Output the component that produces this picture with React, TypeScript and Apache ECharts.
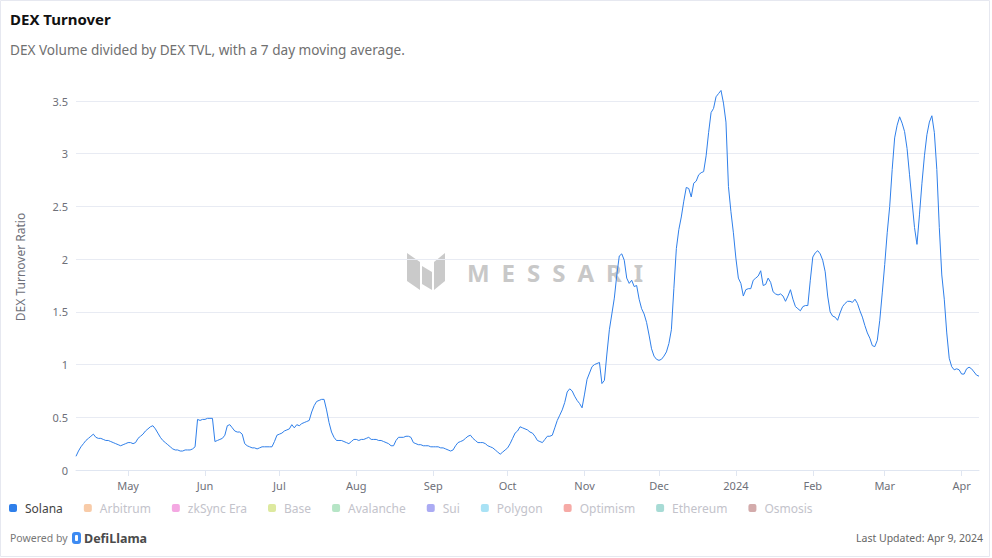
import React, { useEffect, useRef } from "react";
import * as echarts from "echarts";

// ---- Data: Solana DEX turnover ratio (7d MA), daily from 2023-04-10 ----
const startDate = "2023-04-10";
const apr2023 = [0.13, 0.18, 0.22, 0.25, 0.28, 0.30, 0.32, 0.34, 0.31, 0.30, 0.30, 0.29, 0.28, 0.28, 0.27, 0.26, 0.25, 0.24, 0.23, 0.24, 0.25];
const may2023 = [0.26, 0.26, 0.25, 0.26, 0.30, 0.32, 0.34, 0.37, 0.39, 0.41, 0.42, 0.39, 0.35, 0.31, 0.28, 0.26, 0.24, 0.22, 0.20, 0.19, 0.19, 0.18, 0.18, 0.19, 0.19, 0.19, 0.20, 0.22, 0.48, 0.47, 0.48];
const jun2023 = [0.48, 0.49, 0.49, 0.49, 0.27, 0.28, 0.29, 0.30, 0.33, 0.42, 0.43, 0.40, 0.37, 0.36, 0.36, 0.34, 0.25, 0.23, 0.22, 0.21, 0.21, 0.20, 0.21, 0.22, 0.22, 0.22, 0.22, 0.22, 0.27, 0.33];
const jul2023 = [0.34, 0.35, 0.37, 0.38, 0.39, 0.43, 0.40, 0.43, 0.42, 0.44, 0.45, 0.46, 0.47, 0.55, 0.61, 0.65, 0.66, 0.67, 0.67, 0.57, 0.45, 0.36, 0.31, 0.28, 0.28, 0.28, 0.27, 0.26, 0.25, 0.27, 0.29];
const aug2023 = [0.29, 0.28, 0.29, 0.29, 0.30, 0.31, 0.29, 0.29, 0.29, 0.28, 0.28, 0.27, 0.26, 0.25, 0.23, 0.23, 0.28, 0.31, 0.31, 0.31, 0.32, 0.32, 0.31, 0.26, 0.25, 0.24, 0.24, 0.23, 0.23, 0.23, 0.22];
const sep2023 = [0.22, 0.22, 0.22, 0.21, 0.21, 0.20, 0.19, 0.18, 0.19, 0.23, 0.26, 0.27, 0.28, 0.30, 0.32, 0.33, 0.30, 0.28, 0.26, 0.26, 0.26, 0.25, 0.23, 0.22, 0.21, 0.19, 0.17, 0.15, 0.17, 0.19];
const oct2023 = [0.21, 0.25, 0.30, 0.35, 0.37, 0.41, 0.40, 0.39, 0.38, 0.36, 0.35, 0.32, 0.28, 0.27, 0.26, 0.29, 0.32, 0.32, 0.33, 0.40, 0.47, 0.52, 0.57, 0.64, 0.74, 0.77, 0.75, 0.70, 0.66, 0.63, 0.59];
const nov2023 = [0.72, 0.86, 0.92, 0.98, 1.00, 1.01, 1.02, 0.82, 0.85, 1.10, 1.33, 1.48, 1.63, 1.85, 2.03, 2.05, 1.99, 1.82, 1.77, 1.80, 1.74, 1.75, 1.62, 1.53, 1.48, 1.40, 1.28, 1.15, 1.08, 1.05];
const dec2023 = [1.04, 1.05, 1.08, 1.12, 1.20, 1.33, 1.72, 2.10, 2.28, 2.40, 2.55, 2.68, 2.67, 2.59, 2.72, 2.74, 2.80, 2.82, 2.83, 2.98, 3.20, 3.39, 3.43, 3.54, 3.57, 3.60, 3.48, 3.30, 2.69, 2.45, 2.25];
const jan2024 = [2.01, 1.82, 1.77, 1.65, 1.71, 1.72, 1.72, 1.80, 1.82, 1.84, 1.89, 1.75, 1.76, 1.82, 1.78, 1.69, 1.67, 1.66, 1.67, 1.65, 1.60, 1.65, 1.71, 1.62, 1.55, 1.53, 1.51, 1.55, 1.56, 1.56, 1.80];
const feb2024 = [2.02, 2.06, 2.08, 2.05, 1.99, 1.88, 1.65, 1.50, 1.46, 1.45, 1.42, 1.49, 1.55, 1.58, 1.60, 1.60, 1.59, 1.62, 1.58, 1.51, 1.45, 1.37, 1.30, 1.25, 1.18, 1.17, 1.23, 1.42, 1.68];
const mar2024 = [1.95, 2.25, 2.50, 2.85, 3.15, 3.27, 3.35, 3.29, 3.21, 3.05, 2.80, 2.55, 2.30, 2.14, 2.42, 2.72, 2.98, 3.18, 3.30, 3.36, 3.20, 2.85, 2.30, 1.85, 1.62, 1.30, 1.06, 0.98, 0.95, 0.96, 0.95];
const apr2024 = [0.91, 0.91, 0.96, 0.975, 0.96, 0.93, 0.90, 0.89];

const legendNames = ["Solana", "Arbitrum", "zkSync Era", "Base", "Avalanche", "Sui", "Polygon", "Optimism", "Ethereum", "Osmosis"];
const legendColors = ["#2f7fea", "#f8cba8", "#f4a8e2", "#dde99f", "#b6e5c6", "#ababf3", "#a9e2f5", "#f6aaa6", "#a7dbd5", "#d3abab"];
const monthNames = ["Jan", "Feb", "Mar", "Apr", "May", "Jun", "Jul", "Aug", "Sep", "Oct", "Nov", "Dec"];

const titleText = "DEX Turnover";
const subtitleText = "DEX Volume divided by DEX TVL, with a 7 day moving average.";
const yAxisName = "DEX Turnover Ratio";
const updatedText = "Last Updated: Apr 9, 2024";

const FONT = "'Noto Sans', 'Open Sans', sans-serif";

function buildDates(start: string, n: number): string[] {
  const base = new Date(start + "T00:00:00Z").getTime();
  const out: string[] = [];
  for (let i = 0; i < n; i++) {
    out.push(new Date(base + i * 86400000).toISOString().slice(0, 10));
  }
  return out;
}

export default function App() {
  const ref = useRef<HTMLDivElement>(null);
  useEffect(() => {
    if (!ref.current) return;
    const chart = echarts.init(ref.current, undefined, { renderer: "svg" });
    const values = [
      ...apr2023, ...may2023, ...jun2023, ...jul2023, ...aug2023, ...sep2023,
      ...oct2023, ...nov2023, ...dec2023, ...jan2024, ...feb2024, ...mar2024, ...apr2024,
    ];
    const dates = buildDates(startDate, values.length);
    const isMonthStart = (_i: number, v: string) => v.slice(8, 10) === "01";

    const series: any[] = legendNames.map((name, i) => ({
      name,
      type: "line",
      data: i === 0 ? values : [],
      showSymbol: false,
      symbol: "none",
      clip: false,
      z: 3,
      itemStyle: { color: legendColors[i] },
      lineStyle: { color: legendColors[i], width: 1 },
    }));

    chart.setOption({
      animation: false,
      backgroundColor: "#ffffff",
      textStyle: { fontFamily: FONT },
      title: [
        { text: titleText, left: 10, top: 11, padding: 0, textStyle: { fontFamily: FONT, fontSize: 15, fontWeight: "bold", color: "#111111" } },
        { text: subtitleText, left: 10, top: 42, padding: 0, textStyle: { fontFamily: FONT, fontSize: 13.6, fontWeight: "normal", color: "#707070" } },
      ],
      grid: { left: 76, right: 13, top: 101, bottom: 88, containLabel: false },
      xAxis: {
        type: "category",
        data: dates,
        boundaryGap: false,
        axisLine: { lineStyle: { color: "#e0e6f1" } },
        axisTick: { show: true, interval: isMonthStart, length: 6, lineStyle: { color: "#e0e6f1" } },
        axisLabel: {
          interval: isMonthStart,
          margin: 10,
          fontSize: 11,
          color: "#6e7079",
          fontFamily: FONT,
          formatter: (v: string) => {
            const m = parseInt(v.slice(5, 7), 10);
            return m === 1 ? v.slice(0, 4) : monthNames[m - 1];
          },
        },
        splitLine: { show: false },
      },
      yAxis: {
        type: "value",
        min: 0,
        max: 3.5,
        interval: 0.5,
        axisLine: { show: false },
        axisTick: { show: false },
        axisLabel: { fontSize: 11, color: "#6e7079", margin: 8, fontFamily: FONT },
        splitLine: { lineStyle: { color: "#e8ebf3" } },
      },
      legend: {
        left: 9,
        top: 502,
        padding: 0,
        icon: "roundRect",
        itemWidth: 8,
        itemHeight: 8,
        itemGap: 21,
        textStyle: { fontSize: 12, fontFamily: FONT, padding: [0, 0, 0, 3] },
        data: legendNames.map((n, i) => ({
          name: n,
          textStyle: { color: i === 0 ? "#444444" : "#c3c3cb" },
        })),
      },
      series,
      graphic: [
        {
          type: "rect",
          silent: true,
          z: -10,
          shape: { x: 0.5, y: 0.5, width: 989, height: 556 },
          style: { fill: "none", stroke: "#e6e8f0", lineWidth: 1 },
        },
        {
          type: "text",
          silent: true,
          rotation: Math.PI / 2,
          x: 20,
          y: 267,
          style: { text: yAxisName, fontSize: 12, fill: "#6e7079", fontFamily: FONT, align: "center", verticalAlign: "middle" },
        },
        // Messari watermark
        {
          type: "group",
          silent: true,
          z: 1,
          children: [
            { type: "polygon", shape: { points: [[407, 253], [420, 262], [420, 290], [407, 281]] }, style: { fill: "#cacaca" } },
            { type: "polygon", shape: { points: [[422, 266], [432, 272], [432, 290], [422, 284]] }, style: { fill: "#cacaca" } },
            { type: "polygon", shape: { points: [[434, 262], [445, 253], [445, 281], [434, 290]] }, style: { fill: "#cacaca" } },
            {
              type: "text",
              x: 555,
              y: 272,
              style: { text: "M\u2002E\u2002S\u2002S\u2002A\u2002R\u2002I", fontSize: 24, fontWeight: "bold", fill: "#c8c8c8", fontFamily: FONT, align: "center", verticalAlign: "middle" },
            },
          ],
        },
        // footer
        {
          type: "text",
          silent: true,
          x: 10,
          y: 538,
          style: { text: "Powered by", fontSize: 10.5, fill: "#777777", fontFamily: FONT, verticalAlign: "middle" },
        },
        {
          type: "rect",
          silent: true,
          shape: { x: 72, y: 532, width: 9, height: 12, r: 3 },
          style: { fill: "#3d8bf2" },
        },
        {
          type: "rect",
          silent: true,
          shape: { x: 75, y: 535, width: 3, height: 6, r: 1 },
          style: { fill: "#ffffff" },
        },
        {
          type: "text",
          silent: true,
          x: 84,
          y: 538,
          style: { text: "DefiLlama", fontSize: 12.5, fontWeight: "bold", fill: "#4a4a4a", fontFamily: FONT, verticalAlign: "middle" },
        },
        {
          type: "text",
          silent: true,
          x: 983,
          y: 538,
          style: { text: updatedText, fontSize: 10.5, fill: "#666666", fontFamily: FONT, align: "right", verticalAlign: "middle" },
        },
      ],
    });
    return () => chart.dispose();
  }, []);
  return <div ref={ref} style={{ position: "absolute", left: 0, top: 0, width: 992, height: 558 }} />;
}
